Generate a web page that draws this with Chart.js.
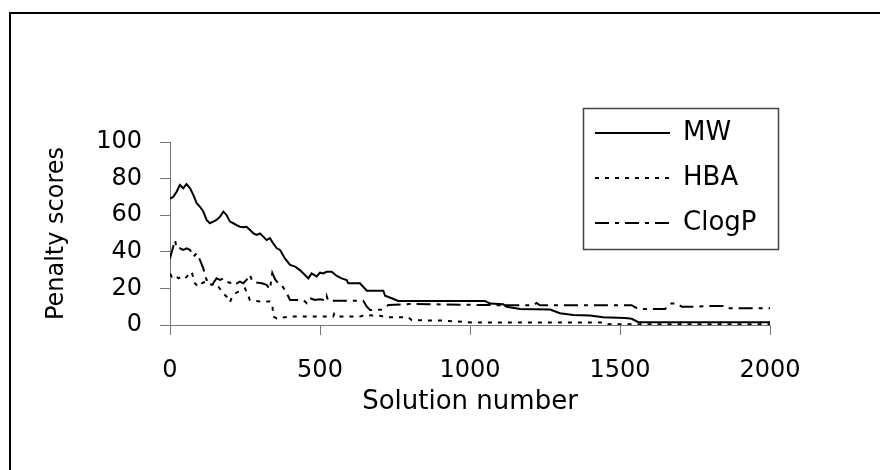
<!DOCTYPE html>
<html>
<head>
<meta charset="utf-8">
<script src="https://cdn.jsdelivr.net/npm/chart.js@4.4.1/dist/chart.umd.min.js"></script>
<style>
  html, body { margin: 0; padding: 0; background: #fff; }
</style>
</head>
<body>
<canvas id="penaltyChart" width="880" height="470"></canvas>
<script>
var seriesNames = ['MW', 'HBA', 'ClogP'];
var xTicks = [0, 500, 1000, 1500, 2000];
var yTicks = [0, 20, 40, 60, 80, 100];

// MW (solid)
var mwX = [0, 11, 22, 33, 44, 55, 67, 78, 89, 100, 111, 122, 133, 144, 155, 167, 178, 189, 200, 211,
  222, 233, 244, 255, 267, 278, 289, 300, 311, 322, 333, 344, 356, 367, 383, 400, 417, 433, 450, 461,
  472, 489, 500, 511, 522, 539, 556, 572, 589, 594, 633, 644, 656, 711, 717, 739, 761, 1050, 1067, 1111,
  1122, 1167, 1267, 1300, 1344, 1400, 1444, 1517, 1539, 1561, 2000];
var mwY = [69, 70, 72.8, 76.5, 74.7, 77, 74.7, 71, 66.5, 64.6, 62, 57.4, 55.6, 56.5, 57.4, 59.2, 62, 60, 56.5, 55.6,
  54.6, 53.7, 53.4, 53.7, 51.9, 50.1, 49.2, 50, 48.3, 46.4, 47.5, 44.6, 41.9, 41, 36.4, 32.8, 31.9, 30, 27.3, 25.5,
  28.2, 26.5, 28.6, 28.2, 29.1, 29.1, 26.8, 25.5, 24.6, 22.8, 22.8, 20.9, 18.7, 18.7, 16, 14.6, 13.1, 13.1, 11.7, 11.3,
  10, 8.7, 8.5, 6.4, 5.5, 5.2, 4.2, 3.8, 3.4, 1.5, 1.5];

// HBA (dotted)
var hbaX = [0, 6, 17, 28, 39, 50, 61, 72, 83, 94, 106, 117, 128, 139, 150, 161, 172, 183, 194, 200,
  206, 217, 228, 239, 250, 258, 266, 283, 300, 333, 341, 344, 356, 400, 544, 547, 552, 633, 650, 700,
  722, 794, 806, 906, 1017, 1444, 1456, 2000];
var hbaY = [28.2, 26.4, 27.3, 25.5, 26.4, 25.5, 27.3, 29.1, 22.8, 20.9, 22.8, 23.7, 22.8, 21.9, 22.8, 21, 18.6, 16.4, 14.6, 12.5,
  15, 17.3, 18.2, 19.1, 20, 17, 13.7, 13.2, 12.8, 12.8, 11.8, 4.6, 3.6, 4.6, 4.6, 6, 4.6, 4.6, 5.5, 5,
  4.2, 4.2, 2.6, 2.4, 1.3, 1.3, 0.4, 0.4];

// ClogP (dash-dot)
var clogpX = [0, 6, 17, 22, 33, 44, 56, 67, 78, 89, 100, 111, 122, 133, 144, 155, 167, 178, 189, 200,
  211, 222, 233, 244, 255, 266, 275, 289, 306, 322, 333, 341, 350, 361, 372, 383, 392, 400, 444, 456,
  467, 483, 500, 517, 522, 527, 644, 656, 667, 706, 728, 800, 1100, 1111, 1122, 1211, 1222, 1233, 1539, 1561,
  1650, 1667, 1689, 1706, 1750, 1789, 1844, 1856, 2000];
var clogpY = [36.4, 40, 46.4, 41.9, 41.9, 41, 41.9, 41, 37.3, 39.2, 35.5, 31, 24.6, 24.6, 22.8, 25.5, 24.6, 25.5, 23.7, 23,
  24, 22.8, 23.7, 22.8, 24.6, 27.5, 23.7, 23.2, 22.8, 21.9, 19.5, 28.5, 25, 22.8, 21.9, 19.1, 16.4, 13.7, 13.7, 11.9,
  14.6, 13.7, 14, 13.5, 16, 13.3, 13.3, 10, 8.2, 8.4, 10.9, 11.5, 10.8, 12, 10.8, 10.8, 12, 10.8, 10.8, 8.7,
  8.7, 11.8, 11.8, 10, 10, 10.4, 10.4, 9.1, 9.1];

function pairs(xs, ys) {
  return xs.map(function(x, i) { return { x: x, y: ys[i] }; });
}

Chart.defaults.font.family = "'DejaVu Sans', Verdana, sans-serif";
Chart.defaults.font.size = 24;
Chart.defaults.color = '#000';

var framePlugin = {
  id: 'frame',
  beforeDraw: function(chart) {
    var c = chart.ctx;
    c.save();
    c.fillStyle = '#fff';
    c.fillRect(0, 0, chart.width, chart.height);
    c.strokeStyle = '#000';
    c.lineWidth = 2;
    c.strokeRect(10, 13, chart.width + 20, chart.height + 20);
    c.restore();
    // park the legend where the original box sits
    var lg = chart.legend;
    lg.left = 576; lg.top = 101;
    lg.right = lg.left + 210; lg.bottom = lg.top + 200;
  },
  afterDraw: function(chart) {
    var c = chart.ctx;
    c.save();
    c.strokeStyle = '#444';
    c.lineWidth = 1.5;
    c.strokeRect(583.5, 108.5, 195, 141);
    c.restore();
  }
};

var ctx = document.getElementById('penaltyChart').getContext('2d');
var myChart = new Chart(ctx, {
  type: 'line',
  data: {
    datasets: [{
      label: seriesNames[0],
      data: pairs(mwX, mwY),
      borderColor: '#000',
      borderWidth: 2
    }, {
      label: seriesNames[1],
      data: pairs(hbaX, hbaY),
      borderColor: '#000',
      borderWidth: 2,
      borderDash: [4, 6]
    }, {
      label: seriesNames[2],
      data: pairs(clogpX, clogpY),
      borderColor: '#000',
      borderWidth: 2,
      borderDash: [14, 6, 4, 6]
    }]
  },
  options: {
    responsive: false,
    animation: false,
    devicePixelRatio: 1,
    layout: { padding: { top: 142, right: 110, bottom: 0, left: 0 } },
    elements: { point: { radius: 0 }, line: { tension: 0 } },
    scales: {
      x: {
        type: 'linear',
        min: 0, max: 2000,
        afterBuildTicks: function(scale) { scale.ticks = xTicks.map(function(v) { return { value: v }; }); },
        afterFit: function(scale) { scale.height = 145; },
        border: { color: '#777', width: 1 },
        grid: { drawOnChartArea: false, tickLength: 10, color: '#777' },
        ticks: { padding: 21, maxRotation: 0, callback: function(v) { return String(v); } },
        title: { display: true, text: 'Solution number', font: { size: 26 }, padding: { top: 0, bottom: 52 } }
      },
      y: {
        min: 0, max: 100,
        afterBuildTicks: function(scale) { scale.ticks = yTicks.map(function(v) { return { value: v }; }); },
        afterFit: function(scale) { scale.width = 170; },
        border: { color: '#777', width: 1 },
        grid: { drawOnChartArea: false, tickLength: 10, color: '#777' },
        ticks: { padding: 18, callback: function(v) { return String(v); } },
        title: { display: true, text: 'Penalty scores', padding: { top: 42, bottom: 0 } }
      }
    },
    plugins: {
      tooltip: { enabled: false },
      legend: {
        position: 'chartArea',
        align: 'start',
        labels: {
          usePointStyle: true,
          pointStyle: 'line',
          pointStyleWidth: 75,
          padding: 19,
          color: '#000',
          font: { size: 26 },
          generateLabels: function(chart) {
            var items = Chart.defaults.plugins.legend.labels.generateLabels(chart);
            items.forEach(function(it) {
              var ds = chart.data.datasets[it.datasetIndex];
              it.lineDash = ds.borderDash || [];
              it.lineWidth = 2;
              it.strokeStyle = '#000';
              it.pointStyle = 'line';
            });
            return items;
          }
        }
      }
    }
  },
  plugins: [framePlugin]
});
</script>
</body>
</html>
